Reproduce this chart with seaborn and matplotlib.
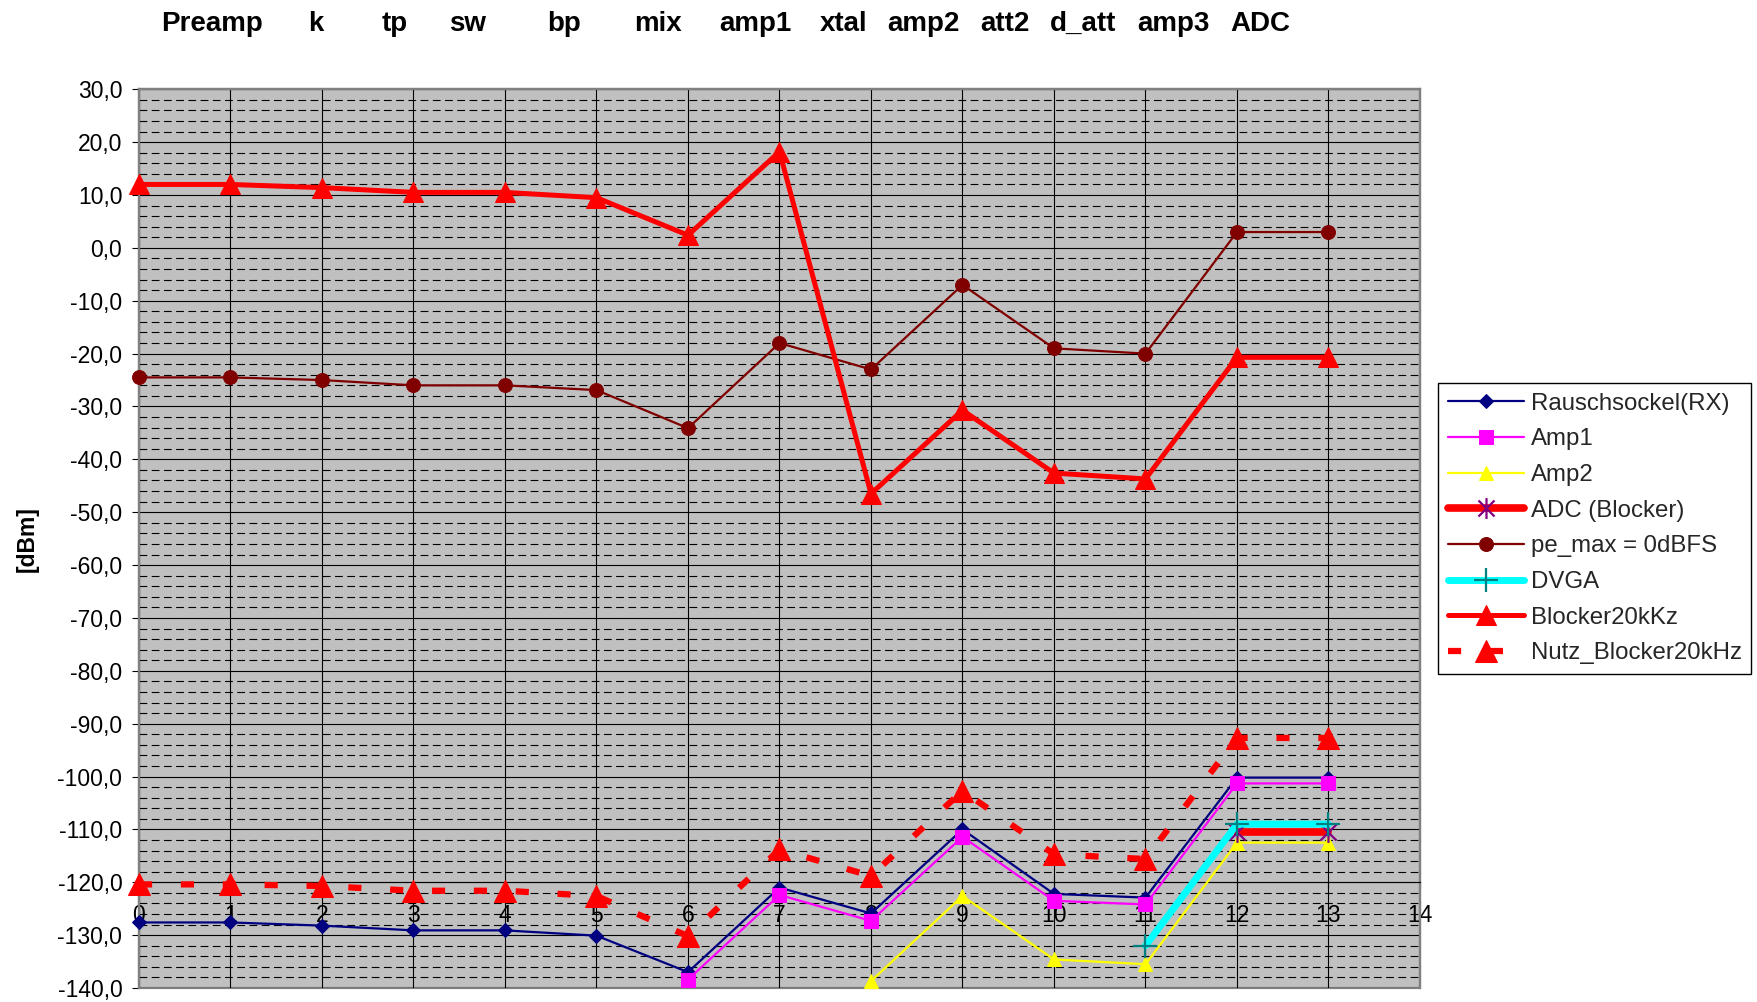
import numpy as np
import matplotlib
matplotlib.use("Agg")
import matplotlib.pyplot as plt
from matplotlib.path import Path
from matplotlib.ticker import MultipleLocator, FuncFormatter
import seaborn as sns

sns.set_theme(style="ticks")
plt.rcParams['font.family'] = ['Liberation Sans', 'DejaVu Sans']

nan = np.nan

# stage index on the x axis
stage_idx = list(range(14))
stage_names = ["Preamp", "k", "tp", "sw", "bp", "mix", "amp1", "xtal",
               "amp2", "att2", "d_att", "amp3", "ADC"]

# levels in dBm
rausch = [-127.6, -127.6, -128.2, -129.1, -129.1, -130.1, -137.0,
          -121.0, -125.9, -110.0, -122.2, -122.9, -100.2, -100.2]
amp1 = [nan] * 6 + [-138.4, -122.4, -127.3, -111.4, -123.5, -124.2, -101.3, -101.3]
amp2 = [nan] * 8 + [-138.7, -122.6, -134.6, -135.5, -112.5, -112.5]
adc_blocker = [nan] * 12 + [-110.5, -110.5]
pe_max = [-24.5, -24.5, -25.0, -26.0, -26.0, -26.9, -34.1,
          -18.0, -23.0, -7.0, -19.0, -20.0, 3.0, 3.0]
dvga = [nan] * 11 + [-132.0, -109.0, -109.0]
blocker = [12.0, 12.0, 11.4, 10.5, 10.5, 9.5, 2.4,
           18.2, -46.5, -30.7, -42.6, -43.7, -20.7, -20.7]
nutz_blocker = [-120.4, -120.4, -120.7, -121.6, -121.6, -122.6, -130.2,
                -113.8, -118.8, -102.7, -114.7, -115.6, -92.7, -92.7]

# asterisk marker like Excel's (X plus vertical bar)
star = Path([(-1, -1), (1, 1), (-1, 1), (1, -1), (0, -1.3), (0, 1.3)],
            [Path.MOVETO, Path.LINETO, Path.MOVETO, Path.LINETO, Path.MOVETO, Path.LINETO])

fig = plt.figure(figsize=(17.58, 10.02), dpi=100)
ax = fig.add_axes([139 / 1758, 1 - 988 / 1002, (1420 - 139) / 1758, (988 - 89.3) / 1002])
ax.set_facecolor('#C0C0C0')

common = dict(estimator=None, sort=False, clip_on=False, ax=ax, zorder=3)

sns.lineplot(x=stage_idx, y=rausch, color='#000080', lw=1.6, marker='D', ms=6.8,
             mec='#000080', mfc='#000080', label='Rauschsockel(RX)', **common)
sns.lineplot(x=stage_idx, y=amp1, color='#FF00FF', lw=1.6, marker='s', ms=9.5,
             mec='#FF00FF', mfc='#FF00FF', label='Amp1', **common)
sns.lineplot(x=stage_idx, y=amp2, color='#FFFF00', lw=1.6, marker='^', ms=9.5,
             mec='#FFFF00', mfc='#FFFF00', label='Amp2', **common)
sns.lineplot(x=stage_idx, y=adc_blocker, color='#FF0000', lw=5.5, marker=star, ms=15,
             mec='#800080', mfc='none', mew=1.6, label='ADC (Blocker)', **common)
sns.lineplot(x=stage_idx, y=pe_max, color='#800000', lw=1.6, marker='o', ms=10,
             mec='#800000', mfc='#800000', label='pe_max = 0dBFS', **common)
sns.lineplot(x=stage_idx, y=dvga, color='#00FFFF', lw=5, marker='+', ms=17,
             mec='#008080', mew=1.6, label='DVGA', **common)
sns.lineplot(x=stage_idx, y=blocker, color='#FF0000', lw=3.6, marker='^', ms=15,
             mec='#FF0000', mfc='#FF0000', label='Blocker20kKz', **common)
sns.lineplot(x=stage_idx, y=nutz_blocker, color='#FF0000', lw=4.5,
             linestyle=(0, (2.1, 4.6)), dash_capstyle='butt', marker='^', ms=16,
             mec='#FF0000', mfc='#FF0000', label='Nutz_Blocker20kHz', **common)

# axes range and grid
ax.set_xlim(0, 14)
ax.set_ylim(-140, 30)
ax.xaxis.set_major_locator(MultipleLocator(1))
ax.yaxis.set_major_locator(MultipleLocator(10))
ax.yaxis.set_minor_locator(MultipleLocator(2))
ax.yaxis.set_major_formatter(FuncFormatter(lambda v, p: f"{v:.1f}".replace('.', ',')))
ax.set_axisbelow('line')
ax.grid(which='major', axis='both', color='black', lw=0.8, ls='-')
ax.grid(which='minor', axis='y', color='black', lw=0.8, ls=(0, (7, 4)))

ax.spines['bottom'].set_position(('data', -120))
ax.spines['bottom'].set_color('black')
ax.spines['bottom'].set_linewidth(0.8)
for s in ['left', 'top', 'right']:
    ax.spines[s].set_color('#808080')
    ax.spines[s].set_linewidth(1.6)
ax.patch.set_edgecolor('#808080')
ax.patch.set_linewidth(1.6)

ax.tick_params(axis='x', which='major', direction='out', length=4.5, width=0.8,
               color='black', pad=11, labelsize=16.5, labelcolor='black')
ax.tick_params(axis='y', which='major', direction='out', length=5, width=0.8,
               color='black', pad=7, labelsize=16.5, labelcolor='black')
ax.tick_params(axis='y', which='minor', length=0)

ax.set_ylabel('[dBm]', fontsize=16.5, fontweight='bold', color='black')
ax.yaxis.set_label_coords(-0.078, 0.5)

# stage names along the top
name_x = [161, 308, 382, 449, 547, 634, 719, 820, 887, 980, 1050, 1137, 1230]
for name, px in zip(stage_names, name_x):
    fig.text(px / 1758, 1 - 31 / 1002, name, fontsize=20, fontweight='bold',
             ha='left', va='baseline', color='black')

leg = ax.legend(loc='upper left', bbox_to_anchor=(1438 / 1758, 1 - 383 / 1002),
                bbox_transform=fig.transFigure, borderaxespad=0, fontsize=17.3,
                frameon=True, fancybox=False, framealpha=1, edgecolor='black',
                handlelength=3.2, handletextpad=0.25, labelspacing=0.57,
                borderpad=0.4)
leg.get_frame().set_linewidth(1.0)

fig.savefig('out.png', dpi=100)
